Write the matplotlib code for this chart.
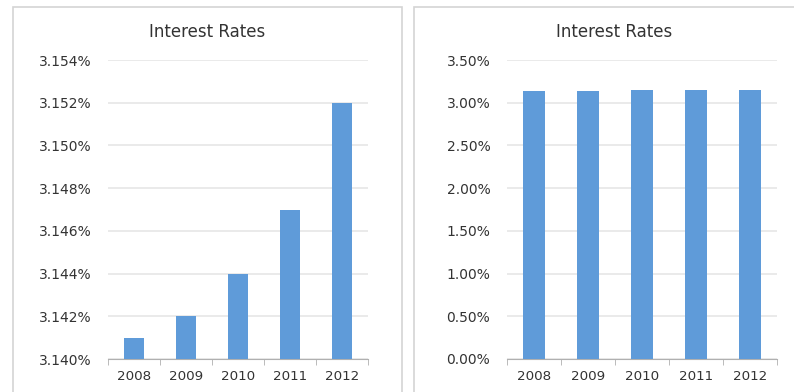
import matplotlib.pyplot as plt
from matplotlib.patches import Rectangle
from matplotlib.ticker import FuncFormatter, MultipleLocator
import numpy as np

years = ['2008', '2009', '2010', '2011', '2012']
rates = [3.141, 3.142, 3.144, 3.147, 3.152]

left_ylim = (3.140, 3.154)
left_step = 0.002
right_ylim = (0.0, 3.5)
right_step = 0.5

bar_color = '#5f9bd9'
grid_color = '#e6e6e6'
text_color = '#333333'

plt.rcParams['font.family'] = ['DejaVu Sans']

fig = plt.figure(figsize=(7.94, 3.92), dpi=100)

# panel frames (pixel coords -> figure fraction)
W, H = 794.0, 392.0
for x0, x1 in [(13, 402), (414, 820)]:
    fig.patches.append(Rectangle((x0 / W, -0.05), (x1 - x0) / W, (H - 7) / H + 0.05,
                                 transform=fig.transFigure, fill=False,
                                 edgecolor='#d4d4d4', linewidth=1.2))


def style_axes(ax, ylim, step, fmt, title_x):
    x = np.arange(len(years))
    ax.bar(x, rates, width=0.4, color=bar_color, zorder=3)
    ax.set_xlim(-0.5, len(years) - 0.5)
    ax.set_ylim(*ylim)
    ax.yaxis.set_major_locator(MultipleLocator(step))
    ax.yaxis.set_major_formatter(FuncFormatter(fmt))
    ax.grid(axis='y', color=grid_color, linewidth=1.2, zorder=0)
    ax.set_xticks(x)
    ax.set_xticklabels(years)
    ax.set_xticks(np.arange(-0.5, len(years)), minor=True)
    ax.tick_params(axis='x', which='major', length=0, pad=8, labelsize=9.7, labelcolor=text_color)
    ax.tick_params(axis='x', which='minor', length=4, color='#b0b0b0', direction='out')
    ax.tick_params(axis='y', length=0, pad=12, labelsize=10, labelcolor=text_color)
    for side in ['top', 'right', 'left']:
        ax.spines[side].set_visible(False)
    ax.spines['bottom'].set_color('#b0b0b0')
    fig.text(title_x, 1 - 32 / H, 'Interest Rates', ha='center', va='center',
             fontsize=12, color=text_color)


ax1 = fig.add_axes([108 / W, 33 / H, 260 / W, 299 / H])
style_axes(ax1, left_ylim, left_step, lambda v, p: '%.3f%%' % v, 207 / W)

ax2 = fig.add_axes([507 / W, 33 / H, 270 / W, 299 / H])
style_axes(ax2, right_ylim, right_step, lambda v, p: '%.2f%%' % v, 614 / W)

fig.savefig('out.png', dpi=100, facecolor='white')
